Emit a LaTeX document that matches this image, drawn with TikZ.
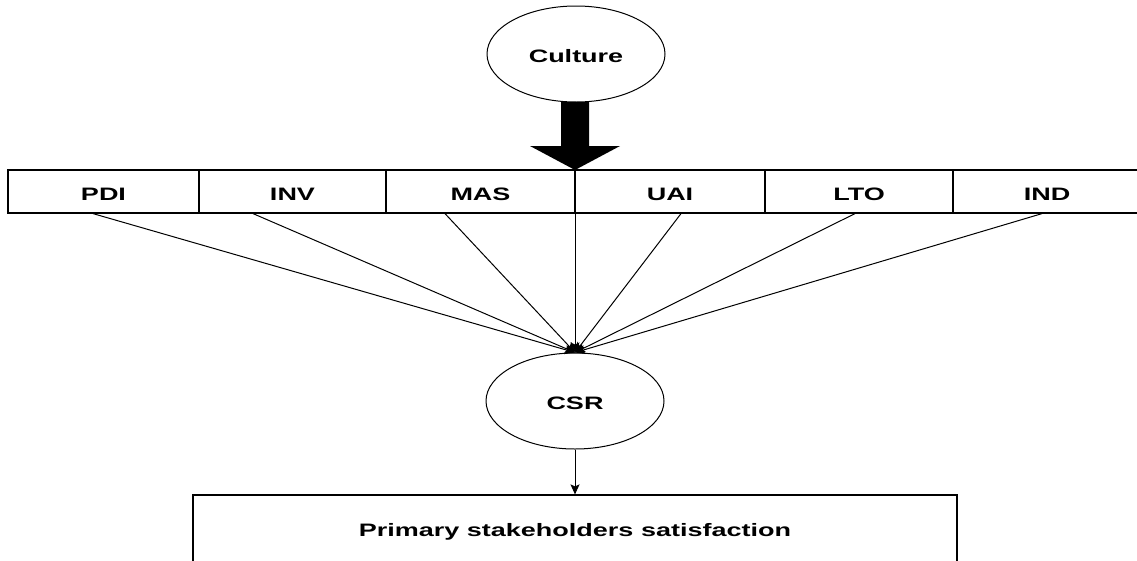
\documentclass[tikz,border=0pt]{standalone}
\usepackage{fontspec}
\setmainfont{Liberation Sans}
\usetikzlibrary{arrows.meta,shapes.geometric}
% wide bold label, set slightly below the node centre
\newcommand{\wide}[1]{\raisebox{-2.5pt}[\height][\depth]{\scalebox{1.5}[1]{#1}}}
\tikzset{
  lbl/.style={font=\fontsize{18}{21}\selectfont\bfseries, text=black},
  oval/.style={draw, ellipse, line width=1pt, minimum width=178pt, minimum height=96pt, inner sep=0pt, lbl},
  dim/.style={draw, rectangle, line width=1.2pt, minimum height=43pt, inner sep=0pt, lbl},
  outcome/.style={draw, rectangle, line width=1.2pt, minimum width=764pt, minimum height=68pt, inner sep=0pt, lbl},
  link/.style={line width=1pt, -{Stealth[length=10pt,width=9pt,inset=2pt]}},
}
\begin{document}
\begin{tikzpicture}[x=1pt,y=-1pt]
  \useasboundingbox (0,0) rectangle (1137,560);
  \clip (0,0) rectangle (1137,560);

  % top and middle constructs
  \node[oval] (culture) at (576,54) {\wide{Culture}};
  \node[oval] (csr) at (575,401) {\wide{CSR}};

  % Hofstede dimensions
  \node[dim, minimum width=191pt] (pdi) at (103.5,191.5) {\wide{PDI}};
  \node[dim, minimum width=187pt] (inv) at (292.5,191.5) {\wide{INV}};
  \node[dim, minimum width=189pt] (mas) at (480.5,191.5) {\wide{MAS}};
  \node[dim, minimum width=190pt] (uai) at (670,191.5) {\wide{UAI}};
  \node[dim, minimum width=188pt] (lto) at (859,191.5) {\wide{LTO}};
  \node[dim, minimum width=188pt] (ind) at (1047,191.5) {\wide{IND}};

  % outcome
  \node[outcome] (sat) at (575,529) {\wide{Primary stakeholders satisfaction}};

  % block arrow from culture onto the dimension row
  \coordinate (tip) at (575,170);
  \fill ([shift={(-14,-68)}]tip) -- ([shift={(14,-68)}]tip) -- ([shift={(14,-24)}]tip)
        -- ([shift={(45,-24)}]tip) -- (tip) -- ([shift={(-45,-24)}]tip)
        -- ([shift={(-14,-24)}]tip) -- cycle;

  % dimensions feeding CSR
  \draw[link] ([xshift=-10.5pt]pdi.south) -- (csr.north);
  \draw[link] ([xshift=-39.5pt]inv.south) -- (csr.north);
  \draw[link] ([xshift=-35.5pt]mas.south) -- (csr.north);
  \draw[link] (tip) -- (csr.north);
  \draw[link] ([xshift=11pt]uai.south) -- (csr.north);
  \draw[link] ([xshift=-4pt]lto.south) -- (csr.north);
  \draw[link] ([xshift=-5pt]ind.south) -- (csr.north);

  % CSR to satisfaction
  \draw[link] (csr.south) -- (sat.north);
\end{tikzpicture}
\end{document}
